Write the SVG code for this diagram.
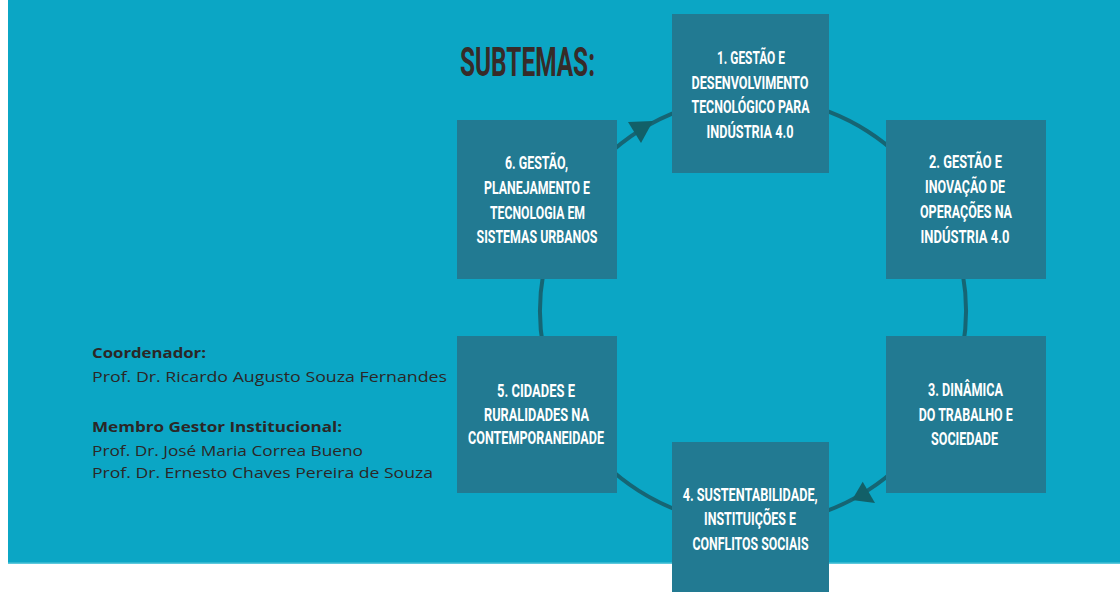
<svg xmlns="http://www.w3.org/2000/svg" width="1120" height="592" viewBox="0 0 1120 592">
<style>
.bg{fill:#0ba6c5}
.box{fill:#227a92}
.arc{fill:none;stroke:#166574;stroke-width:4}
.head{fill:#126068}
.bt{font-family:"Liberation Sans Narrow","Roboto","Liberation Sans",sans-serif;font-weight:bold;font-size:18.5px;fill:#ffffff;text-anchor:middle}
.title{font-family:"Liberation Sans Narrow","Roboto","Liberation Sans",sans-serif;font-weight:bold;font-size:41px;fill:#372b28}
.lt{font-family:"Open Sans","Noto Sans","Liberation Sans",sans-serif;font-size:15px;fill:#2b2727}
.lb{font-weight:bold}
</style>
<rect class="bg" x="8" y="0" width="1112" height="563"/>
<rect x="8" y="562.5" width="1112" height="1.5" fill="#5cc8dc"/>
<text class="title" x="460" y="76" textLength="135" lengthAdjust="spacingAndGlyphs">SUBTEMAS:</text>
<g id="info">
<text class="lt lb" x="92" y="358" textLength="114" lengthAdjust="spacingAndGlyphs">Coordenador:</text>
<text class="lt" x="92" y="382" textLength="355" lengthAdjust="spacingAndGlyphs">Prof. Dr. Ricardo Augusto Souza Fernandes</text>
<text class="lt lb" x="92" y="432" textLength="250" lengthAdjust="spacingAndGlyphs">Membro Gestor Institucional:</text>
<text class="lt" x="92" y="456" textLength="271" lengthAdjust="spacingAndGlyphs">Prof. Dr. José Maria Correa Bueno</text>
<text class="lt" x="92" y="478" textLength="341" lengthAdjust="spacingAndGlyphs">Prof. Dr. Ernesto Chaves Pereira de Souza</text>
</g>
<g id="connectors">
<path class="arc" d="M568.5 204.5 A213 213 0 0 1 716 101"/>
<path class="arc" d="M790 101 A213 213 0 0 1 927.5 188.8"/>
<path class="arc" d="M962.8 274 A213 213 0 0 1 962.8 348"/>
<path class="arc" d="M927.5 433.2 A213 213 0 0 1 790 520.8"/>
<path class="arc" d="M716 520.8 A213 213 0 0 1 578.5 433.2"/>
<path class="arc" d="M543.2 348 A213 213 0 0 1 543.2 274"/>
<polygon class="head" points="628,122 653,121 641,143"/>
<polygon class="head" points="862.7,481.7 852,500 875,503"/>
</g>
<g id="node1">
<rect class="box" x="672" y="14" width="157" height="159"/>
<text class="bt" x="751" y="64" textLength="68" lengthAdjust="spacingAndGlyphs">1. GESTÃO E</text>
<text class="bt" x="750" y="88.5" textLength="117" lengthAdjust="spacingAndGlyphs">DESENVOLVIMENTO</text>
<text class="bt" x="750.5" y="113" textLength="118" lengthAdjust="spacingAndGlyphs">TECNOLÓGICO PARA</text>
<text class="bt" x="750" y="137.5" textLength="87" lengthAdjust="spacingAndGlyphs">INDÚSTRIA 4.0</text>
</g>
<g id="node2">
<rect class="box" x="886" y="120" width="160" height="159"/>
<text class="bt" x="965.5" y="168" textLength="73" lengthAdjust="spacingAndGlyphs">2. GESTÃO E</text>
<text class="bt" x="965" y="193" textLength="80" lengthAdjust="spacingAndGlyphs">INOVAÇÃO DE</text>
<text class="bt" x="966" y="218" textLength="92" lengthAdjust="spacingAndGlyphs">OPERAÇÕES NA</text>
<text class="bt" x="965" y="243" textLength="89" lengthAdjust="spacingAndGlyphs">INDÚSTRIA 4.0</text>
</g>
<g id="node3">
<rect class="box" x="886" y="336" width="160" height="157"/>
<text class="bt" x="965.5" y="396" textLength="75" lengthAdjust="spacingAndGlyphs">3. DINÂMICA</text>
<text class="bt" x="965.7" y="420.5" textLength="94" lengthAdjust="spacingAndGlyphs">DO TRABALHO E</text>
<text class="bt" x="964.5" y="445" textLength="67" lengthAdjust="spacingAndGlyphs">SOCIEDADE</text>
</g>
<g id="node4">
<rect class="box" x="672" y="442" width="157" height="160"/>
<text class="bt" x="750.2" y="501" textLength="135" lengthAdjust="spacingAndGlyphs">4. SUSTENTABILIDADE,</text>
<text class="bt" x="750" y="525" textLength="92" lengthAdjust="spacingAndGlyphs">INSTITUIÇÕES E</text>
<text class="bt" x="750.5" y="550" textLength="116" lengthAdjust="spacingAndGlyphs">CONFLITOS SOCIAIS</text>
</g>
<g id="node5">
<rect class="box" x="457" y="336" width="160" height="157"/>
<text class="bt" x="536" y="397" textLength="78" lengthAdjust="spacingAndGlyphs">5. CIDADES E</text>
<text class="bt" x="536.5" y="420.5" textLength="105" lengthAdjust="spacingAndGlyphs">RURALIDADES NA</text>
<text class="bt" x="536" y="444" textLength="136" lengthAdjust="spacingAndGlyphs">CONTEMPORANEIDADE</text>
</g>
<g id="node6">
<rect class="box" x="457" y="120" width="160" height="159"/>
<text class="bt" x="536.5" y="168.5" textLength="63" lengthAdjust="spacingAndGlyphs">6. GESTÃO,</text>
<text class="bt" x="537" y="194" textLength="106" lengthAdjust="spacingAndGlyphs">PLANEJAMENTO E</text>
<text class="bt" x="537.5" y="218.5" textLength="95" lengthAdjust="spacingAndGlyphs">TECNOLOGIA EM</text>
<text class="bt" x="537" y="243" textLength="121" lengthAdjust="spacingAndGlyphs">SISTEMAS URBANOS</text>
</g>
</svg>
